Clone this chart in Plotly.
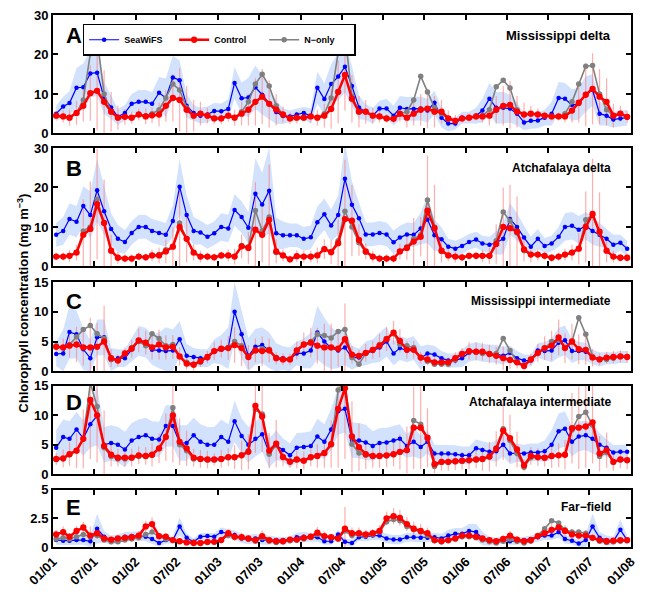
import pandas as pd
import plotly.graph_objects as go
from plotly.subplots import make_subplots

# ---------------- data (monthly means, Jan 2001 - Dec 2007) ----------------
months = pd.date_range('2001-01-01', periods=84, freq='MS') + pd.Timedelta(days=14)
tick_dates = pd.date_range('2001-01-01', '2008-01-01', freq='6MS')
tick_labels = ['01/01', '07/01', '01/02', '07/02', '01/03', '07/03', '01/04', '07/04',
               '01/05', '07/05', '01/06', '07/06', '01/07', '07/07', '01/08']

panel_letters = ['A', 'B', 'C', 'D', 'E']
panel_titles = ['Mississippi delta', 'Atchafalaya delta', 'Mississippi intermediate',
                'Atchafalaya intermediate', 'Far\u2212field']
y_max = [30, 30, 15, 15, 5]
y_ticks = [[0, 10, 20, 30], [0, 10, 20, 30], [0, 5, 10, 15], [0, 5, 10, 15], [0, 2.5, 5]]
y_ticktext = [['0', '10', '20', '30'], ['0', '10', '20', '30'], ['0', '5', '10', '15'],
              ['0', '5', '10', '15'], ['0', '2.5', '5']]

# Panel A - Mississippi delta
seawifs_A = [5, 6.8, 7.7, 11.6, 11.7, 15.2, 15.4, 9, 6.6, 4.2, 5.2, 7.5,
             8, 8, 7.5, 10.3, 9, 14.2, 13.5, 7, 5.2, 4.5, 4.8, 5.7,
             5.6, 6.2, 12.8, 8.9, 9.1, 11.7, 9.8, 7.5, 5.4, 4.4, 4.3, 4.8,
             5.2, 4.4, 11.6, 8.7, 12.5, 14.4, 16.9, 12, 6.6, 5.4, 4.5, 6.3,
             6.3, 4.5, 6.5, 6.2, 6.2, 6.3, 5.8, 7.8, 4, 2.5, 2.5, 4,
             4, 4.5, 5.8, 8.8, 6.5, 6.5, 6.3, 5, 2.8, 3.2, 3.3, 4,
             5, 9, 8.8, 7.2, 7.5, 10, 11, 5, 4.5, 3.5, 3.8, 4]
control_A = [4.5, 4.3, 4.0, 5.2, 7, 10.2, 10.8, 8, 5.5, 4, 4.2, 4,
             4.8, 4.3, 4.6, 4.8, 7, 9, 8.5, 6, 4.5, 5, 4.5, 3.8,
             3.8, 4.5, 4, 5, 6, 8, 9.3, 7.5, 6, 4.8, 3.8, 4,
             4, 4.3, 4, 4.5, 6.2, 10.5, 14.8, 8.8, 5.5, 5.5, 4.5, 4.3,
             3.8, 3.7, 5, 4, 5, 6, 6.3, 5.5, 5.5, 3.8, 3.2, 3.8,
             4, 4.3, 4.3, 4.5, 6, 7, 7.2, 5.5, 4.8, 5, 4.8, 4.5,
             4.3, 4.3, 4.3, 5.8, 7.8, 9.8, 11.3, 9.3, 8, 4.5, 5, 4.2]
nonly_A = [4.5, 4.3, 4.0, 5.2, 8.5, 20.2, 24, 10, 5.5, 4, 4.2, 4,
           4.8, 4.5, 5, 6, 9, 12.5, 11, 6.5, 4.5, 5, 4.5, 3.8,
           3.8, 4.5, 4, 5.5, 8, 12.5, 15, 12, 7, 4.8, 3.8, 4,
           4, 4.3, 4, 5, 9, 20.5, 25, 9.5, 5.5, 5.5, 4.5, 4.3,
           3.8, 3.8, 5, 5.5, 8.5, 14.5, 10.5, 6.5, 5, 3.8, 3.2, 3.8,
           4, 4.3, 4.5, 6, 11.8, 13.5, 11.5, 6, 4.8, 5, 4.8, 4.5,
           4.3, 4.3, 5, 8, 12.5, 17, 17.2, 10, 6, 4.5, 5, 4.2]
std_A = [2, 2.5, 3, 5, 6, 6, 6, 4, 3, 2, 2, 2.5,
         3, 3, 3, 4, 5, 5.5, 5, 3, 2, 2, 2, 2,
         2, 2.5, 4, 4, 5, 5.5, 5, 4, 3, 2, 1.5, 1.5,
         1.5, 2, 4, 4, 5, 6, 6.5, 5, 3, 2, 2, 2,
         2.5, 2.5, 3, 3, 3, 3, 3, 3, 2.5, 2, 1.5, 1.5,
         1.5, 2, 3, 4, 4, 4, 3.5, 3, 2, 2, 2, 2,
         3, 4, 4, 4, 4, 4.5, 4, 3, 2.5, 2, 2, 2]
err_A = [1, 1.5, 2, 3, 4, 7, 10, 8, 5, 3, 2, 1.5,
         1.5, 2, 2, 3, 4, 6, 8, 6, 4, 3, 2, 1.5,
         1.5, 1.5, 2, 3, 4, 6, 7, 6, 4, 2, 1.5, 1.5,
         1, 1.5, 2, 3, 5, 8, 9, 6, 4, 3, 2, 1.5,
         1, 1, 2, 2.5, 3, 4, 5, 4, 3, 2, 1.5, 1,
         1, 1, 1.5, 2.5, 3.5, 5, 6, 4, 3, 2, 1.5, 1,
         1, 1, 1.5, 3, 5, 8, 9, 7, 6, 3, 2, 1.5]

# Panel B - Atchafalaya delta
seawifs_B = [8, 9, 12, 11.3, 15.3, 13, 19.3, 14, 9.5, 7, 6.2, 8.5,
             10, 10, 9, 8.5, 8, 11.5, 20.2, 13, 9, 8.6, 7.5, 8.4,
             10, 9.6, 14.3, 12.5, 9.8, 18.4, 15.7, 19.2, 8.4, 7.9, 7.9, 7.9,
             7, 7.4, 11.2, 13.2, 10.4, 13, 22.2, 15.6, 12.2, 8.1, 8.1, 8.5,
             8.1, 6.1, 7.3, 8.1, 8, 9.6, 11.9, 7.9, 6.9, 5, 4.5, 5.2,
             6.2, 6.8, 5.8, 5.5, 6, 7, 12, 10, 7.3, 5, 7, 5.2,
             5.8, 7.5, 10, 10.3, 9.3, 10.3, 9, 8, 7, 5.5, 6, 4.5]
control_B = [2.5, 2.5, 2.7, 3.5, 8, 9.5, 15.8, 11, 4, 2.2, 2, 2,
             2.5, 2.3, 2.8, 2.8, 3.8, 5, 10, 7, 3.5, 2.5, 2.5, 2.3,
             2.8, 2.8, 2.5, 5.1, 4.7, 9.3, 8, 11.8, 3.8, 2.8, 1.8, 2.6,
             2.5, 2.5, 2.8, 4.4, 3.6, 5.9, 12, 11.6, 6.7, 3.8, 2.5, 2,
             2, 2, 3.8, 4.7, 6.3, 7.5, 14.1, 9.7, 4, 2.8, 2.5, 2.3,
             2.7, 2.7, 2.7, 2.7, 5.7, 10, 9.7, 8.8, 4.3, 3, 3, 2.7,
             2.2, 2.5, 3, 3.5, 4.5, 10, 13.3, 8.8, 4, 2.5, 2.2, 2.2]
nonly_B = [2.5, 2.5, 2.7, 3.5, 9, 10, 17, 11, 4, 2.2, 2, 2,
           2.5, 2.3, 2.8, 3, 4.2, 5, 11, 7, 3.5, 2.5, 2.5, 2.3,
           2.8, 2.8, 2.5, 5.3, 5, 14.2, 9, 12.5, 3.5, 2.8, 1.8, 2.6,
           2.5, 2.5, 2.8, 4.4, 3.8, 6.5, 14, 10, 6, 3.6, 2.5, 2,
           2, 2, 3.8, 5, 7, 8, 16.8, 10, 3.8, 2.8, 2.5, 2.3,
           2.7, 2.7, 2.7, 2.7, 6.5, 13.8, 11.5, 8.5, 4, 3, 3, 2.7,
           2.2, 2.5, 3, 3.5, 4.5, 11.8, 13, 8.5, 4, 2.5, 2.2, 2.2]
std_B = [3, 3.5, 4, 4, 5, 6, 8, 6, 4, 3.5, 3, 3,
         3, 3, 3, 3, 3, 4, 7, 5, 3.5, 3, 3, 3,
         3.5, 3.5, 4, 4, 4, 9, 8, 11, 4, 3.5, 3, 3,
         3, 3, 4, 4, 4, 5, 9, 6, 4, 3, 3, 3,
         3, 3, 3, 3, 3, 4, 6, 4, 3, 2, 2, 2,
         2, 2, 2, 2, 3, 4, 4, 3.5, 3, 2.5, 2.5, 2,
         2, 2.5, 3.5, 3.5, 3.5, 3.5, 3.5, 3, 2.5, 2.5, 2, 2]
err_B = [1, 1, 1.5, 2, 9, 12, 14, 11, 4, 1.5, 1, 1,
         1, 1, 1.5, 2, 3, 5, 10, 6, 2, 1.5, 1, 1,
         1, 1.5, 2, 3, 4, 12, 7, 14, 3, 1.5, 1, 1.5,
         1.5, 1.5, 2, 2.5, 3, 6, 15, 9, 4, 2, 1.5, 1,
         1, 1, 2, 3, 6, 5, 14, 11, 3, 1.5, 1.5, 1,
         1, 1, 1.5, 2, 5, 10, 11, 9, 3, 2, 1.5, 1,
         1, 1, 1.5, 2, 4, 9, 14, 10, 3, 1.5, 1, 1]

# Panel C - Mississippi intermediate
seawifs_C = [2.9, 3, 6.6, 6.2, 3.7, 2.2, 5.7, 5.7, 1.9, 2.2, 2.2, 3.7,
             5.1, 4.8, 3.6, 3.5, 3.4, 3.5, 5.4, 2.6, 2.4, 2.2, 2.2, 3.4,
             3.6, 3.9, 10, 6.2, 2.6, 4.1, 4.4, 3.5, 2.2, 2.2, 2, 3,
             3, 3.5, 6.5, 5, 3.9, 3.5, 4, 2.3, 2.3, 3, 3.4, 4,
             5, 3, 3.9, 3.5, 3.9, 2.2, 3, 2.8, 2.2, 1.8, 1.8, 2.2,
             3.1, 3.4, 3.1, 3, 2.9, 2.6, 3.1, 2.2, 1.8, 1.8, 3.5, 3.4,
             3.5, 4.8, 5.2, 3.4, 3.4, 3.3, 2.4, 2, 2.2, 2.2, 2.4, 2.4]
control_C = [4.1, 4, 4.3, 4.5, 4, 4, 4.1, 5, 2.2, 1.8, 3, 3.8,
             5.2, 4.8, 4, 4.5, 4, 4.1, 2.5, 1.3, 1.1, 1.7, 2.4, 3.4,
             3.8, 3.9, 4.4, 3.9, 2.4, 3.5, 3.4, 3.5, 2.2, 2, 2, 3.5,
             4.5, 4.8, 4.3, 4, 4, 3.8, 5.4, 2.8, 2.6, 3.1, 3.6, 4.3,
             5.4, 6.5, 5.1, 3.6, 3.6, 2.3, 2, 1.5, 1.5, 1.5, 2.2, 2.9,
             3.4, 3.3, 3.3, 2.9, 2.6, 2.2, 1.9, 1.5, 0.9, 2, 3.1, 3.9,
             4.3, 5.7, 3.9, 5, 3.7, 3.6, 2.3, 2, 2.3, 2.4, 2.5, 2.4]
nonly_C = [4.3, 4, 4.5, 5.8, 7, 7.7, 6.3, 5.5, 2, 1.8, 3, 4,
           5, 4.3, 6.3, 5.5, 4.3, 4.5, 2.5, 1.5, 1.2, 1.5, 2.4, 3.4,
           3.8, 4, 5, 4.3, 2.4, 3.5, 3.8, 3.7, 2.3, 2, 2, 3.5,
           4.5, 5, 6.2, 6, 5.6, 6.7, 7, 2.3, 1.2, 3, 3.6, 4.5,
           5.5, 6.3, 4.5, 4.3, 4, 2.3, 1.7, 1.2, 1.2, 1.2, 2, 2.9,
           3.3, 3.2, 3, 2.9, 3, 5.5, 3.5, 1.5, 1, 2, 3, 3.8,
           5, 5.2, 4, 5, 9, 6.2, 2.5, 2, 2, 2.2, 2.5, 2.5]
std_C = [2, 4, 4.5, 4, 3.5, 3, 3, 3, 2, 1.5, 1.5, 2,
         2.5, 2.5, 2.5, 3, 4, 3.5, 3, 2, 1.5, 1.5, 1.5, 2,
         2.5, 3.5, 5, 4, 3, 3, 3, 3, 2.5, 2, 2, 2,
         2.5, 3, 4.5, 4, 3.5, 3, 3, 2, 1.5, 2, 2, 2.5,
         2.5, 2, 2, 2, 2, 2, 1.5, 1.5, 1.2, 1.2, 1.2, 1.5,
         1.5, 1.5, 1.5, 1.5, 1.5, 1.5, 1.2, 1.2, 1, 1, 1.2, 1.5,
         2, 2.5, 2.5, 2, 1.5, 1.5, 1.2, 1.2, 1, 1, 1, 1]
err_C = [1, 1.5, 2, 3, 3, 5, 4, 6, 1.5, 1, 1, 1.5,
         2, 2, 2, 2.5, 2, 2, 1.5, 1, 1, 1, 1, 1.5,
         1.5, 2, 3, 3, 2, 2, 2.5, 2, 1, 1, 1, 1.5,
         2, 2.5, 3, 4, 4, 3, 6, 1.5, 1, 1.5, 1.5, 2,
         2, 2, 2, 1.5, 1.5, 1, 1, 0.8, 0.8, 0.8, 1, 1,
         1.5, 1.5, 1.5, 1.5, 1.5, 2, 1.5, 1, 0.8, 1, 1.5, 2,
         2.5, 3, 2.5, 3, 2.5, 2.5, 1.5, 1, 1, 1, 1, 1]

# Panel D - Atchafalaya intermediate
seawifs_D = [4.5, 6.3, 6, 7.6, 6.1, 8.5, 9.9, 5, 5.3, 5, 4.2, 5.7,
             6.3, 6.6, 6, 5.9, 8.2, 8.2, 5.3, 5.3, 6.6, 5.5, 5, 5,
             6.3, 5.5, 9, 6.5, 5, 6, 6.8, 3.6, 4.9, 4.1, 3.2, 4.5,
             4.6, 4.8, 6.4, 5.5, 7.6, 10.7, 11.1, 5.8, 5.7, 5.4, 4.8, 5.3,
             5.4, 5.7, 6, 4.8, 5.5, 4.6, 5.5, 3.5, 3.5, 3.5, 3.4, 3.2,
             3.2, 4.4, 4.1, 3.8, 3.9, 5, 3.5, 3.6, 3.5, 3.7, 3.7, 3.9,
             5, 7.3, 7.7, 5.5, 6.4, 6.6, 6, 5, 4.5, 3.7, 3.8, 3.8]
control_D = [2.6, 2.7, 3.4, 4, 6, 12.6, 10, 4.8, 3.3, 2.8, 2.8, 2.8,
             3.2, 3.1, 3.3, 4.4, 6.3, 10, 5.5, 4.4, 2.8, 2.6, 2.5, 2.5,
             2.6, 2.9, 2.9, 3.2, 3.8, 11.6, 9.8, 4, 5.2, 2.9, 2.1, 2.5,
             2.3, 2.9, 3.1, 3.6, 5.1, 11.1, 14.6, 6.4, 4.6, 3.4, 3.1, 3.1,
             3.2, 3.4, 3.8, 4.1, 7.9, 7.9, 6.2, 1.7, 2.1, 2.1, 2.2, 2.3,
             2.4, 2.5, 2.6, 3, 4.3, 7.4, 6.1, 4.2, 1.5, 3.1, 2.9, 2.8,
             3.1, 3.2, 3.3, 7.8, 7.9, 8.1, 8.8, 3.5, 4.1, 2.1, 2.5, 2.4]
nonly_D = [2.5, 2.6, 3.3, 4, 6, 15.5, 11.5, 4.5, 3, 2.6, 2.6, 2.8,
           3, 3, 3.2, 4.3, 6.5, 11.3, 5, 4, 2.6, 2.5, 2.4, 2.4,
           2.5, 2.8, 2.8, 3.3, 4, 11, 10.2, 3.4, 5, 3, 2.3, 2.4,
           2.3, 2.8, 3, 3.5, 5, 14.3, 16, 5.1, 3.6, 3.2, 3, 3,
           3.1, 3.3, 3.7, 4, 9.1, 8.5, 6, 1.3, 2, 2, 2.1, 2.2,
           2.3, 2.4, 2.5, 2.9, 4.5, 7.7, 5.7, 3.5, 1.2, 2.8, 2.8, 2.7,
           3, 3.2, 3.3, 7.5, 9.8, 10.5, 8.3, 3, 3.7, 2, 2.4, 2.3]
std_D = [3, 3, 3, 3, 3, 4, 5, 3, 3, 3, 3, 3,
         3, 3, 3, 3, 3.5, 3.5, 3, 3, 3, 3, 3, 3,
         3, 3, 3.5, 3, 3, 3, 3, 2.5, 2.5, 2, 2, 2.5,
         2.5, 2.5, 3, 3, 3.5, 4, 4, 3, 3, 3, 2.5, 2.5,
         2.5, 2.5, 2.5, 2, 2.5, 2, 2, 1.5, 1.5, 1.5, 1.5, 1.5,
         1.5, 1.5, 1.5, 1.5, 1.8, 2, 1.8, 1.5, 1.5, 1.5, 1.5, 1.8,
         2.5, 3, 3, 2.5, 2.5, 2.5, 2.5, 2, 1.5, 1.2, 1.2, 1.2]
err_D = [1, 1.5, 2, 3, 5, 10, 8, 6, 2, 1.5, 1.5, 1.5,
         1.5, 1.5, 2, 2.5, 4, 8, 4, 3, 1.5, 1.5, 1.5, 1,
         1.5, 1.5, 2, 2.5, 3, 8, 6, 3, 4, 1.5, 1, 1.5,
         1.5, 1.5, 2, 2.5, 4, 10, 12, 6, 4, 2.5, 2, 2,
         2, 2, 3, 4, 7, 7, 5, 1.5, 1.5, 1.5, 1.5, 1.5,
         1.5, 1.5, 2, 2.5, 3, 5, 4, 3, 1, 1.5, 1.5, 1.5,
         2, 2, 2.5, 6, 7, 7, 7, 3, 3, 1.5, 1.5, 1.5]

# Panel E - Far-field
seawifs_E = [0.6, 0.55, 0.55, 0.6, 0.6, 0.5, 1.6, 0.9, 0.6, 0.7, 0.9, 0.95,
             0.95, 0.9, 0.7, 0.35, 0.6, 0.6, 1.8, 0.8, 0.45, 0.9, 0.95, 0.9,
             1.3, 1.15, 1.05, 0.75, 0.65, 0.75, 0.6, 0.6, 0.6, 0.6, 0.6, 0.85,
             0.9, 0.85, 0.85, 0.5, 0.5, 1.1, 0.45, 0.35, 0.85, 0.9, 1, 1,
             0.75, 0.65, 0.65, 0.85, 0.85, 0.8, 0.8, 0.85, 0.75, 1, 1.15, 1.15,
             1.4, 1.3, 0.75, 0.5, 0.5, 0.6, 0.5, 0.5, 0.6, 0.7, 0.85, 1,
             1, 1.3, 0.7, 0.55, 0.3, 0.6, 1.8, 0.8, 0.6, 0.5, 1.5, 0.6]
control_E = [1.1, 1.3, 0.9, 1.4, 1.7, 1, 1.2, 0.75, 0.65, 0.75, 0.8, 0.85,
             1, 1.8, 2, 0.95, 0.9, 0.6, 0.5, 0.4, 0.35, 0.35, 0.45, 0.45,
             0.6, 1.2, 0.9, 0.85, 0.75, 0.6, 0.95, 0.6, 0.5, 0.5, 0.65, 0.65,
             0.8, 0.9, 1.25, 0.95, 0.85, 0.75, 1.6, 1.2, 1.2, 1.1, 1.2, 1.4,
             2.5, 2.7, 2.55, 2, 1.6, 1.4, 1.2, 0.6, 0.5, 0.6, 0.75, 1,
             1, 0.9, 0.75, 0.6, 0.5, 0.7, 1, 0.65, 0.5, 0.6, 0.95, 1.2,
             1.5, 1.7, 1.4, 1.1, 1, 1, 0.8, 0.6, 0.5, 0.55, 0.6, 0.6]
nonly_E = [0.7, 0.8, 0.7, 0.9, 1.1, 0.9, 1, 0.6, 0.45, 0.45, 0.6, 0.7,
           0.8, 1.1, 1.3, 0.9, 0.7, 0.6, 0.5, 0.4, 0.35, 0.35, 0.4, 0.45,
           0.6, 1, 0.85, 0.8, 0.7, 0.5, 0.8, 0.5, 0.4, 0.45, 0.55, 0.6,
           0.7, 0.85, 1.1, 0.9, 0.8, 0.7, 1.4, 1, 1.1, 1, 1.1, 1.3,
           2.2, 2.4, 2.3, 1.8, 1.5, 1.3, 1, 0.55, 0.45, 0.55, 0.7, 0.9,
           0.9, 0.8, 0.6, 0.45, 0.35, 0.5, 0.7, 0.5, 0.35, 0.5, 1, 1.6,
           2.3, 2.1, 1.5, 1.3, 1.3, 1.2, 0.8, 0.5, 0.4, 0.45, 0.5, 0.55]
std_E = [0.4, 0.4, 0.4, 0.4, 0.4, 0.5, 1.3, 0.5, 0.4, 0.4, 0.4, 0.4,
         0.4, 0.4, 0.4, 0.3, 0.3, 0.3, 0.8, 0.4, 0.3, 0.3, 0.3, 0.3,
         0.4, 0.4, 0.4, 0.4, 0.4, 0.4, 0.4, 0.4, 0.3, 0.3, 0.3, 0.4,
         0.4, 0.4, 0.4, 0.3, 0.3, 0.4, 0.3, 0.3, 0.3, 0.4, 0.4, 0.4,
         0.4, 0.4, 0.4, 0.4, 0.4, 0.4, 0.4, 0.4, 0.4, 0.5, 0.5, 0.5,
         0.6, 0.7, 0.6, 0.4, 0.3, 0.3, 0.3, 0.3, 0.3, 0.3, 0.4, 0.4,
         0.4, 0.5, 0.4, 0.3, 0.3, 0.6, 1.1, 0.5, 0.4, 0.4, 0.9, 0.4]
err_E = [0.4, 0.5, 0.3, 0.4, 0.5, 0.8, 0.5, 0.3, 0.2, 0.2, 0.3, 0.3,
         0.4, 0.5, 0.6, 0.3, 0.3, 0.2, 0.2, 0.2, 0.2, 0.2, 0.2, 0.2,
         0.3, 0.4, 0.4, 0.4, 0.3, 0.3, 0.5, 0.3, 0.2, 0.2, 0.3, 0.3,
         0.3, 0.3, 0.5, 0.4, 0.3, 0.3, 1.9, 0.5, 0.5, 0.4, 0.4, 0.5,
         0.6, 0.7, 0.7, 0.6, 0.6, 0.6, 0.5, 0.3, 0.2, 0.2, 0.3, 0.3,
         0.3, 0.3, 0.3, 0.2, 0.2, 0.3, 0.4, 0.3, 0.2, 0.2, 0.3, 0.4,
         0.5, 0.6, 0.5, 0.5, 0.4, 0.4, 0.3, 0.2, 0.2, 0.2, 0.2, 0.2]

seawifs = [seawifs_A, seawifs_B, seawifs_C, seawifs_D, seawifs_E]
control = [control_A, control_B, control_C, control_D, control_E]
nonly = [nonly_A, nonly_B, nonly_C, nonly_D, nonly_E]
stds = [std_A, std_B, std_C, std_D, std_E]
errs = [err_A, err_B, err_C, err_D, err_E]

# ---------------- styling / layout ----------------
W, H = 646, 596
ML, MR, MT, MB = 53, 8, 15, 33
PW, PH = W - ML - MR, H - MT - MB
panel_px = [(15, 137), (152, 274), (290, 382), (397, 488), (504, 563)]  # (top, bottom)
label_y_px = [36, 173, 310, 414, 522]

FONT = 'Liberation Sans, Arial, Helvetica, sans-serif'
BLUE = 'rgb(0,0,255)'
RED = 'rgb(255,0,0)'
GRAY = 'rgb(128,128,128)'
BAND = 'rgb(210,226,252)'
PINK = 'rgba(255,120,120,0.6)'


def py(p):
    return (H - MB - p) / PH


def px(p):
    return (p - ML) / PW


fig = make_subplots(rows=5, cols=1, shared_xaxes=True, vertical_spacing=0.02)
x = list(months)

for k in range(5):
    r = k + 1
    upper = [m + s for m, s in zip(seawifs[k], stds[k])]
    lower = [max(m - s, 0) for m, s in zip(seawifs[k], stds[k])]
    fig.add_trace(go.Scatter(x=x + x[::-1], y=upper + lower[::-1], fill='toself',
                             fillcolor=BAND, line=dict(width=0, color=BAND), mode='lines',
                             hoverinfo='skip', showlegend=False), row=r, col=1)
    fig.add_trace(go.Scatter(x=x, y=control[k], mode='markers',
                             marker=dict(size=1, color='rgba(0,0,0,0)'),
                             error_y=dict(type='data', array=errs[k], visible=True,
                                          color=PINK, thickness=1.2, width=0),
                             hoverinfo='skip', showlegend=False), row=r, col=1)
    fig.add_trace(go.Scatter(x=x, y=seawifs[k], mode='lines+markers', name='SeaWiFS',
                             line=dict(color=BLUE, width=1.2), marker=dict(color=BLUE, size=4.5),
                             legendrank=1, showlegend=(k == 0)), row=r, col=1)
    fig.add_trace(go.Scatter(x=x, y=nonly[k], mode='lines+markers', name='N\u2212only',
                             line=dict(color=GRAY, width=1.6), marker=dict(color=GRAY, size=5.5),
                             legendrank=3, showlegend=(k == 0)), row=r, col=1)
    fig.add_trace(go.Scatter(x=x, y=control[k], mode='lines+markers', name='Control',
                             line=dict(color=RED, width=2.5), marker=dict(color=RED, size=6.3),
                             legendrank=2, showlegend=(k == 0)), row=r, col=1)

    top, bot = panel_px[k]
    fig.update_yaxes(row=r, col=1, domain=[py(bot), py(top)], range=[0, y_max[k]],
                     tickvals=y_ticks[k], ticktext=y_ticktext[k],
                     ticks='inside', ticklen=5, tickwidth=1.5, tickcolor='black',
                     showline=True, linewidth=2, linecolor='black', mirror='ticks',
                     showgrid=False, zeroline=False,
                     tickfont=dict(family=FONT, size=13, color='black', weight='bold'))
    fig.update_xaxes(row=r, col=1, type='date', range=['2001-01-01', '2008-01-01'],
                     tickvals=list(tick_dates), ticktext=tick_labels,
                     ticks='inside', ticklen=5, tickwidth=1.5, tickcolor='black',
                     showline=True, linewidth=2, linecolor='black', mirror='ticks',
                     showgrid=False, zeroline=False, showticklabels=(k == 4),
                     tickangle=-45,
                     tickfont=dict(family=FONT, size=13, color='black', weight='bold'))

    fig.add_annotation(xref='paper', yref='paper', x=px(64), y=py(label_y_px[k]),
                       xanchor='left', yanchor='middle', showarrow=False,
                       text=panel_letters[k],
                       font=dict(family=FONT, size=22, color='black', weight='bold'))
    fig.add_annotation(xref='paper', yref='paper', x=px(620), y=py(label_y_px[k]),
                       xanchor='right', yanchor='middle', showarrow=False,
                       text=panel_titles[k],
                       font=dict(family=FONT, size=13 if k == 0 else 12, color='black',
                                 weight='bold'))

fig.add_annotation(xref='paper', yref='paper', x=px(23), y=py(312),
                   xanchor='center', yanchor='middle', showarrow=False, textangle=-90,
                   text='Chlorophyll concentration (mg m<sup>\u22123</sup>)',
                   font=dict(family=FONT, size=13, color='black', weight='bold'))

fig.update_layout(
    width=W, height=H,
    margin=dict(l=ML, r=MR, t=MT, b=MB, pad=0),
    paper_bgcolor='white', plot_bgcolor='white',
    showlegend=True,
    legend=dict(orientation='h', x=px(83), y=py(24), xanchor='left', yanchor='top',
                bgcolor='white', bordercolor='black', borderwidth=1.5,
                entrywidth=45, entrywidthmode='pixels', tracegroupgap=0,
                font=dict(family=FONT, size=9, color='black', weight='bold'),
                traceorder='normal'),
)

fig.write_html('out.html')
